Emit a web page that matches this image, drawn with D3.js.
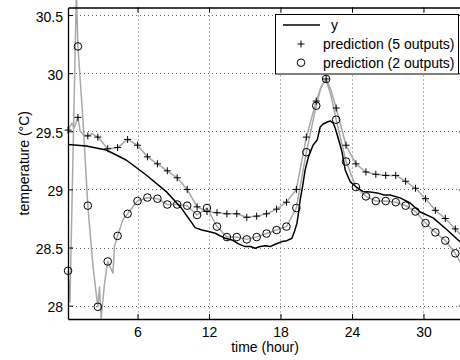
<!DOCTYPE html>
<html><head><meta charset="utf-8">
<script src="https://cdn.jsdelivr.net/npm/d3@7"></script>
<style>
body{margin:0;background:#fff}
svg{display:block}
text{font-family:"Liberation Sans",Arial,Helvetica,sans-serif}
</style>
</head><body>
<svg id="c" width="460" height="360"></svg>
<script>
// ---- data (hours, °C) ----
const xTicks = [6, 12, 18, 24, 30];
const yTicks = [28, 28.5, 29, 29.5, 30, 30.5];
const yTickLabels = ["28", "28.5", "29", "29.5", "30", "30.5"];

const measTime = [0.17,1.70,3.37,5.05,6.73,8.41,9.67,10.84,11.40,11.96,12.52,12.94,13.36,13.92,14.48,15.04,15.46,15.88,16.30,16.72,17.14,17.56,18.12,18.54,18.96,19.17,19.38,19.51,19.65,19.85,20.07,20.35,20.74,21.08,21.33,21.58,21.92,22.17,22.42,22.59,22.76,23.01,23.18,23.43,23.85,24.35,24.94,25.53,26.11,26.69,27.19,28.04,28.88,29.72,30.81,31.99,33.08];
const measTemp = [29.387,29.374,29.339,29.253,29.124,28.981,28.841,28.671,28.651,28.637,28.623,28.600,28.580,28.565,28.531,28.508,28.508,28.494,28.508,28.516,28.508,28.528,28.551,28.559,28.580,28.637,28.709,28.795,28.909,29.024,29.167,29.282,29.382,29.425,29.537,29.563,29.580,29.589,29.571,29.528,29.468,29.382,29.313,29.167,29.067,29.021,28.981,28.978,28.970,28.952,28.952,28.927,28.883,28.806,28.755,28.651,28.548];

const pred5Time = [0.17,0.50,0.69,1.00,1.19,1.47,1.83,2.17,2.67,3.01,3.50,4.33,5.17,6.00,6.83,7.67,8.50,9.33,10.17,11.00,11.83,12.67,13.50,14.33,15.17,16.00,16.83,17.67,18.50,19.33,20.17,21.00,21.40,21.83,22.25,22.67,23.50,24.33,25.17,26.00,26.83,27.67,28.50,29.33,30.17,31.00,31.83,32.67,33.10];
const pred5Temp = [29.51,29.57,29.53,29.62,29.50,29.47,29.46,29.48,29.45,29.41,29.35,29.36,29.43,29.38,29.28,29.22,29.16,29.10,29.00,28.85,28.81,28.80,28.79,28.79,28.76,28.77,28.79,28.83,28.89,29.00,29.45,29.76,29.88,29.95,29.85,29.70,29.38,29.22,29.15,29.13,29.12,29.12,29.07,29.01,28.92,28.82,28.75,28.66,28.61];

const pred2Time = [0.17,0.33,0.87,1.00,1.42,1.83,2.26,2.67,2.81,2.95,3.23,3.50,3.94,4.07,4.33,4.77,4.99,5.17,5.60,6.00,6.83,7.67,8.50,9.33,10.17,11.00,11.83,12.67,13.50,14.33,15.17,16.00,16.83,17.67,18.50,19.33,20.17,21.00,21.40,21.83,22.25,22.67,23.50,24.33,25.17,26.00,26.83,27.67,28.50,29.33,30.17,31.00,31.83,32.67,33.10];
const pred2Temp = [28.30,28.03,30.70,30.23,29.60,28.86,28.34,27.99,28.16,27.89,28.19,28.38,28.28,28.51,28.60,28.74,28.77,28.79,28.85,28.90,28.93,28.92,28.87,28.87,28.86,28.78,28.84,28.68,28.59,28.59,28.57,28.59,28.62,28.65,28.68,28.84,29.32,29.72,29.88,29.95,29.80,29.60,29.24,29.02,28.94,28.90,28.90,28.89,28.86,28.81,28.71,28.63,28.56,28.45,28.37];

const markerTime = [0.17,1.00,1.83,2.67,3.50,4.33,5.17,6.00,6.83,7.67,8.50,9.33,10.17,11.00,11.83,12.67,13.50,14.33,15.17,16.00,16.83,17.67,18.50,19.33,20.17,21.00,21.83,22.67,23.50,24.33,25.17,26.00,26.83,27.67,28.50,29.33,30.17,31.00,31.83,32.67];
const mark5Temp = [29.51,29.62,29.46,29.45,29.35,29.36,29.43,29.38,29.28,29.22,29.16,29.10,29.00,28.85,28.81,28.80,28.79,28.79,28.76,28.77,28.79,28.83,28.89,29.00,29.45,29.76,29.95,29.70,29.38,29.22,29.15,29.13,29.12,29.12,29.07,29.01,28.92,28.82,28.75,28.66];
const mark2Temp = [28.30,30.23,28.86,27.99,28.38,28.60,28.79,28.90,28.93,28.92,28.87,28.87,28.86,28.78,28.84,28.68,28.59,28.59,28.57,28.59,28.62,28.65,28.68,28.84,29.32,29.72,29.95,29.60,29.24,29.02,28.94,28.90,28.90,28.89,28.86,28.81,28.71,28.63,28.56,28.45];

const legendLabels = ["y", "prediction (5 outputs)", "prediction (2 outputs)"];

// ---- chart ----
const L = 68, R = 464, T = 7.5, B = 319;
const x = d3.scaleLinear().domain([1/6, 33.4]).range([L, R]);
const y = d3.scaleLinear().domain([27.885, 30.565]).range([B, T]);
const svg = d3.select("#c");
svg.append("rect").attr("width", 460).attr("height", 360).attr("fill", "#fff");

const GRAY = "#a8a8a8";
const grid = svg.append("g").attr("stroke", "#666").attr("stroke-width", 1).attr("stroke-dasharray", "1,3");
grid.selectAll("line.v").data(xTicks).join("line").attr("class","v")
  .attr("x1", d => Math.round(x(d)) + 0.5).attr("x2", d => Math.round(x(d)) + 0.5)
  .attr("y1", T).attr("y2", B);
grid.selectAll("line.h").data(yTicks).join("line").attr("class","h")
  .attr("y1", d => Math.round(y(d)) + 0.5).attr("y2", d => Math.round(y(d)) + 0.5)
  .attr("x1", L).attr("x2", R);

const line = d3.line().x(d => x(d[0])).y(d => y(d[1]));
const z = (a, b) => a.map((t, i) => [t, b[i]]);

svg.append("path").datum(z(pred5Time, pred5Temp)).attr("d", line)
  .attr("fill", "none").attr("stroke", GRAY).attr("stroke-width", 1.5).attr("stroke-linejoin", "round");
svg.append("path").datum(z(pred2Time, pred2Temp)).attr("d", line)
  .attr("fill", "none").attr("stroke", GRAY).attr("stroke-width", 1.5).attr("stroke-linejoin", "round");
svg.append("path").datum(z(measTime, measTemp)).attr("d", line)
  .attr("fill", "none").attr("stroke", "#000").attr("stroke-width", 1.5).attr("stroke-linejoin", "round");

const plus = (sel, s) => sel.append("path")
  .attr("d", `M${-s},0H${s}M0,${-s}V${s}`).attr("stroke", "#000").attr("stroke-width", 1).attr("fill", "none");
const m5 = svg.append("g").selectAll("g").data(z(markerTime, mark5Temp)).join("g")
  .attr("transform", d => `translate(${x(d[0])},${y(d[1])})`);
m5.each(function(){ plus(d3.select(this), 3.5); });
svg.append("g").selectAll("circle").data(z(markerTime, mark2Temp)).join("circle")
  .attr("cx", d => x(d[0])).attr("cy", d => y(d[1])).attr("r", 3.8)
  .attr("fill", "none").attr("stroke", "#000").attr("stroke-width", 1);

// axes
const fs = "14px";
const xa = svg.append("g").attr("transform", `translate(0,${B})`)
  .call(d3.axisBottom(x).tickValues(xTicks).tickSizeInner(-5).tickSizeOuter(0).tickPadding(8));
const ya = svg.append("g").attr("transform", `translate(${L},0)`)
  .call(d3.axisLeft(y).tickValues(yTicks).tickFormat((d, i) => yTickLabels[i]).tickSizeInner(-5).tickSizeOuter(0).tickPadding(5));
const xt = svg.append("g").attr("transform", `translate(0,${T})`)
  .call(d3.axisTop(x).tickValues(xTicks).tickFormat("").tickSizeInner(-5).tickSizeOuter(0));
const yr = svg.append("g").attr("transform", `translate(${R},0)`)
  .call(d3.axisRight(y).tickValues(yTicks).tickFormat("").tickSizeInner(-5).tickSizeOuter(0));
[xa, ya, xt, yr].forEach(a => {
  a.selectAll("text").attr("font-size", fs).attr("fill", "#000")
    .attr("font-family", '"Liberation Sans",Arial,Helvetica,sans-serif');
  a.selectAll("line").attr("stroke", "#000");
  a.select(".domain").attr("stroke", "#000").attr("stroke-width", 1.3);
});
ya.selectAll("text").attr("dy", "0.45em");

svg.append("text").attr("x", (L + R) / 2 - 1).attr("y", 352).attr("text-anchor", "middle")
  .attr("font-size", fs).text("time (hour)");
svg.append("text").attr("transform", `translate(29,${(T + B) / 2}) rotate(-90)`)
  .attr("text-anchor", "middle").attr("font-size", fs).text("temperature (°C)");

// legend
const lg = svg.append("g");
lg.append("rect").attr("x", 275.5).attr("y", 14.5).attr("width", 183).attr("height", 59.5)
  .attr("fill", "#fff").attr("stroke", "#000").attr("stroke-width", 1);
const rows = [25, 44, 62.7];
lg.append("line").attr("x1", 283).attr("x2", 320).attr("y1", rows[0]).attr("y2", rows[0])
  .attr("stroke", "#000").attr("stroke-width", 1.5);
const lp = lg.append("g").attr("transform", `translate(301,${rows[1]})`);
plus(lp, 3.5);
lg.append("circle").attr("cx", 301).attr("cy", rows[2]).attr("r", 3.8)
  .attr("fill", "none").attr("stroke", "#000");
lg.selectAll("text").data(legendLabels).join("text")
  .attr("x", (d, i) => i === 0 ? 331 : 323).attr("y", (d, i) => rows[i] + 5)
  .attr("font-size", fs).text(d => d);
</script>
</body></html>
